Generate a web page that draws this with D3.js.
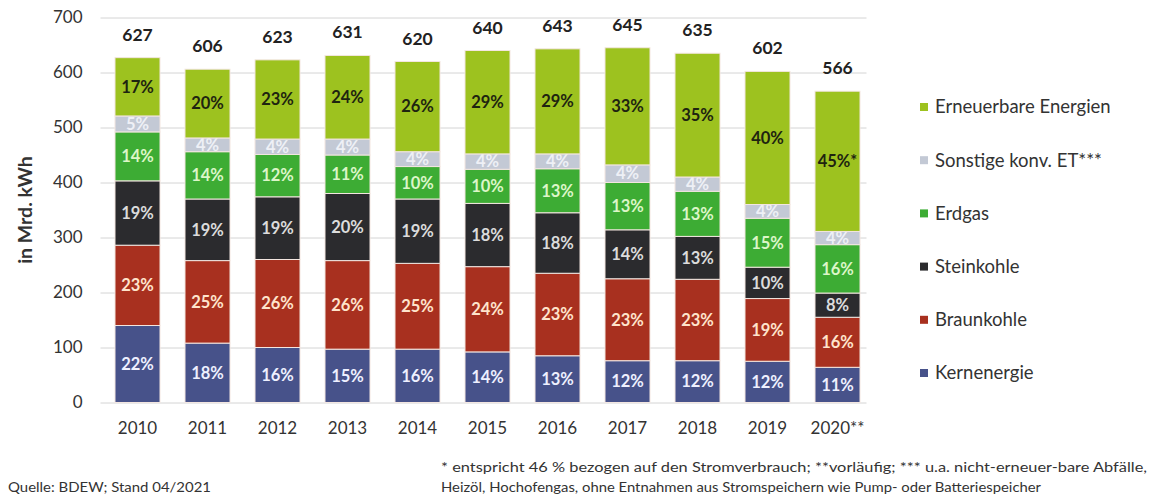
<!DOCTYPE html>
<html>
<head>
    <meta charset="utf-8" />
    <title>Bruttostromerzeugung</title>
    <script src="https://cdn.jsdelivr.net/npm/d3@7"></script>
    <style type="text/css">
        body { margin: 0; background: #fff; }
        #chart svg { font-family: Lato, "Noto Sans", sans-serif; }
        .grid line { stroke: #d4d4d4; stroke-width: 1px; }
        .grid .domain { display: none; }
        .axis .domain { display: none; }
        .axis line { display: none; }
        .axis text { font-size: 17px; fill: #333; font-family: Lato, "Noto Sans", sans-serif; }
        .pct { font-size: 16.5px; font-weight: bold; }
        .total { font-size: 17.5px; font-weight: bold; fill: #222; }
        .legend text { font-size: 18.5px; fill: #333; }
        .note { font-size: 14px; fill: #333; }
    </style>
</head>
<body>
<div id="chart"></div>
<script>
    // Years and totals (Mrd. kWh)
    var years = ["2010", "2011", "2012", "2013", "2014", "2015", "2016", "2017", "2018", "2019", "2020**"]
    var totals = [627, 606, 623, 631, 620, 640, 643, 645, 635, 602, 566]

    // Series values in Mrd. kWh (bottom to top)
    var kern = [140, 108, 100, 97, 97, 92, 85, 76, 76, 75, 64]
    var braun = [146, 150, 160, 161, 156, 155, 150, 149, 148, 114, 91]
    var stein = [117, 112, 114, 122, 117, 115, 110, 89, 78, 57, 44]
    var erdgas = [89, 86, 77, 70, 59, 62, 80, 86, 82, 89, 88]
    var sonstige = [29, 25, 28, 29, 27, 28, 27, 32, 26, 25, 24]
    var erneuerbar = [106, 125, 144, 152, 164, 188, 191, 213, 225, 242, 255]

    // Percentage labels
    var kernPct = ["22%", "18%", "16%", "15%", "16%", "14%", "13%", "12%", "12%", "12%", "11%"]
    var braunPct = ["23%", "25%", "26%", "26%", "25%", "24%", "23%", "23%", "23%", "19%", "16%"]
    var steinPct = ["19%", "19%", "19%", "20%", "19%", "18%", "18%", "14%", "13%", "10%", "8%"]
    var erdgasPct = ["14%", "14%", "12%", "11%", "10%", "10%", "13%", "13%", "13%", "15%", "16%"]
    var sonstigePct = ["5%", "4%", "4%", "4%", "4%", "4%", "4%", "4%", "4%", "4%", "4%"]
    var erneuerbarPct = ["17%", "20%", "23%", "24%", "26%", "29%", "29%", "33%", "35%", "40%", "45%*"]

    var yTicks = [0, 100, 200, 300, 400, 500, 600, 700]

    var series = [
        { name: "Kernenergie", values: kern, pct: kernPct, color: "#47528a", text: "#eef0ff" },
        { name: "Braunkohle", values: braun, pct: braunPct, color: "#a8301f", text: "#ffe4cc" },
        { name: "Steinkohle", values: stein, pct: steinPct, color: "#2b2b2e", text: "#dcdcdc" },
        { name: "Erdgas", values: erdgas, pct: erdgasPct, color: "#3dac34", text: "#dcf6c8" },
        { name: "Sonstige konv. ET***", values: sonstige, pct: sonstigePct, color: "#c3c9d5", text: "#eef0f6" },
        { name: "Erneuerbare Energien", values: erneuerbar, pct: erneuerbarPct, color: "#9dc21f", text: "#1e2410" }
    ]

    var width = 1152, height = 498
    var margin = { top: 17.5, left: 102.5, right: 279.5, bottom: 95.5 }
    var plotW = width - margin.left - margin.right
    var plotH = height - margin.top - margin.bottom

    var svg = d3.select("#chart").append("svg")
        .attr("width", width)
        .attr("height", height)

    var chart = svg.append("g")
        .attr("transform", "translate(" + margin.left + "," + margin.top + ")")

    var x = d3.scaleBand()
        .domain(years)
        .range([0, plotW])
        .paddingInner(0.357)
        .paddingOuter(0.1785)

    var y = d3.scaleLinear()
        .domain([0, 700])
        .range([plotH, 0])

    // Gridlines
    chart.append("g")
        .attr("class", "grid")
        .attr("transform", "translate(-2,0)")
        .call(d3.axisLeft(y).tickValues(yTicks).tickSize(-plotW + 4).tickFormat(""))

    // Stack the data
    var rows = years.map(function(yr, i) {
        var r = { year: yr }
        series.forEach(function(s) { r[s.name] = s.values[i] })
        return r
    })
    var stack = d3.stack().keys(series.map(function(s) { return s.name }))
    var layers = stack(rows)

    var layerG = chart.selectAll(".layer")
        .data(layers)
        .enter().append("g")
        .attr("class", "layer")

    layerG.selectAll("rect")
        .data(function(d) { return d })
        .enter().append("rect")
        .attr("x", function(d) { return x(d.data.year) })
        .attr("width", x.bandwidth())
        .attr("y", function(d) { return y(d[1]) })
        .attr("height", function(d) { return y(d[0]) - y(d[1]) })
        .attr("fill", function(d, i, nodes) { return series[d3.select(nodes[i].parentNode).datum().index].color })
        .attr("stroke", "#f3e6e0")
        .attr("stroke-width", 1)

    // Percentage labels
    layerG.each(function(layer) {
        var s = series[layer.index]
        d3.select(this).selectAll("text")
            .data(layer)
            .enter().append("text")
            .attr("class", "pct")
            .attr("x", function(d) { return x(d.data.year) + x.bandwidth() / 2 })
            .attr("y", function(d) { return (y(d[0]) + y(d[1])) / 2 })
            .attr("dy", "0.35em")
            .attr("text-anchor", "middle")
            .attr("fill", s.text)
            .text(function(d, i) { return s.pct[i] })
    })

    // Totals
    chart.selectAll(".total")
        .data(totals)
        .enter().append("text")
        .attr("class", "total")
        .attr("x", function(d, i) { return x(years[i]) + x.bandwidth() / 2 })
        .attr("y", function(d) { return y(d) - 17 })
        .attr("text-anchor", "middle")
        .text(function(d) { return d })

    // Axes
    chart.append("g")
        .attr("class", "axis")
        .attr("transform", "translate(-20,0)")
        .call(d3.axisLeft(y).tickValues(yTicks).tickSize(0).tickPadding(0))

    chart.append("g")
        .attr("class", "axis")
        .attr("transform", "translate(0," + plotH + ")")
        .call(d3.axisBottom(x).tickSize(0).tickPadding(19))

    // Y axis title
    svg.append("text")
        .attr("transform", "translate(32,210) rotate(-90)")
        .attr("text-anchor", "middle")
        .attr("font-size", "19.5px")
        .attr("font-weight", "bold")
        .attr("fill", "#333")
        .text("in Mrd. kWh")

    // Legend
    var legendItems = series.slice().reverse()
    var legend = svg.append("g")
        .attr("class", "legend")
        .attr("transform", "translate(920,107)")
    var item = legend.selectAll("g")
        .data(legendItems)
        .enter().append("g")
        .attr("transform", function(d, i) { return "translate(0," + (i * 53.2) + ")" })
    item.append("rect")
        .attr("x", 0).attr("y", -4)
        .attr("width", 8).attr("height", 8)
        .attr("fill", function(d) { return d.color })
    item.append("text")
        .attr("x", 15)
        .attr("dy", "0.35em")
        .text(function(d) { return d.name })

    // Footer notes
    svg.append("text")
        .attr("class", "note")
        .attr("x", 8).attr("y", 492)
        .attr("font-size", "15px")
        .attr("textLength", 203)
        .attr("lengthAdjust", "spacingAndGlyphs")
        .text("Quelle: BDEW; Stand 04/2021")
    svg.append("text")
        .attr("class", "note")
        .attr("x", 441).attr("y", 472)
        .attr("textLength", 706)
        .attr("lengthAdjust", "spacingAndGlyphs")
        .text("* entspricht 46 % bezogen auf den Stromverbrauch; **vorläufig; *** u.a. nicht-erneuer-bare Abfälle,")
    svg.append("text")
        .attr("class", "note")
        .attr("x", 441).attr("y", 492)
        .attr("textLength", 600)
        .attr("lengthAdjust", "spacingAndGlyphs")
        .text("Heizöl, Hochofengas, ohne Entnahmen aus Stromspeichern wie Pump- oder Batteriespeicher")
</script>
</body>
</html>
